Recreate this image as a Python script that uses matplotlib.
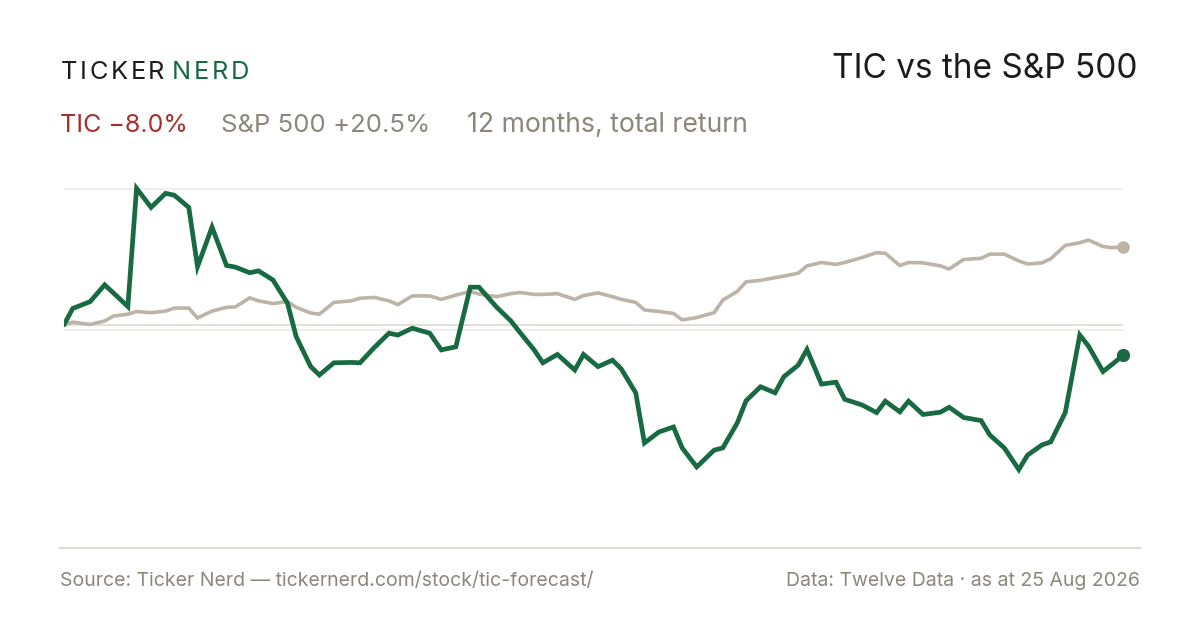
import pandas as pd
import matplotlib
matplotlib.use("Agg")
import matplotlib.pyplot as plt
from matplotlib.lines import Line2D

plt.rcParams['font.family'] = ['Inter', 'DejaVu Sans']

# NYSE sessions 25 Aug 2025 - 25 Aug 2026, every third one plus the last
holidays = ["2025-09-01", "2025-11-27", "2025-12-25", "2026-01-01", "2026-01-19",
            "2026-02-16", "2026-04-03", "2026-05-25", "2026-06-19", "2026-07-03"]
sessions = pd.date_range("2025-08-25", "2026-08-25",
                         freq=pd.offsets.CustomBusinessDay(holidays=holidays))
dates = list(sessions[::3]) + [sessions[-1]]

# cumulative total return, %
tic_return = [0.0, 4.3, 6.1, 10.5, 8.4, 4.8, 35.9, 30.9, 34.6, 34.1,
              30.9, 15.3, 25.7, 15.6, 15.2, 13.7, 14.2, 11.8, 5.7, -3.1,
              -11.0, -13.2, -10.0, -9.9, -10.0, -5.9, -2.2, -2.7, -0.9, -2.2,
              -6.6, -5.8, 9.9, 9.9, 4.7, 1.0, -1.9, -6.6, -10.0, -7.8,
              -11.9, -7.8, -11.0, -9.3, -11.6, -17.9, -31.1, -28.2, -26.9, -32.4,
              -37.4, -33.0, -32.4, -25.8, -20.0, -16.3, -17.9, -13.7, -10.6, -6.5,
              -15.6, -15.1, -19.6, -21.1, -23.1, -20.1, -22.9, -20.1, -23.6, -23.0,
              -21.7, -24.4, -25.2, -29.0, -32.4, -38.1, -34.3, -31.6, -30.8, -23.1,
              -2.7, -5.6, -12.3, -10.5, -8.0]
spx_return = [0.0, 0.7, 0.1, 1.0, 2.3, 2.8, 3.5, 3.2, 3.6, 4.4,
              4.4, 1.8, 3.6, 4.6, 4.7, 7.1, 6.3, 5.6, 6.1, 4.6,
              3.1, 2.8, 5.9, 6.3, 7.0, 7.2, 6.3, 5.3, 7.6, 7.6,
              6.7, 7.8, 8.8, 8.1, 7.4, 8.2, 8.5, 8.0, 8.0, 8.2,
              6.7, 7.7, 8.4, 7.4, 6.7, 5.9, 3.9, 3.5, 3.0, 1.3,
              1.9, 3.2, 6.5, 8.8, 11.3, 11.7, 12.4, 12.8, 13.6, 15.5,
              16.4, 15.9, 16.4, 17.7, 19.0, 18.8, 15.6, 16.4, 16.3, 15.5,
              14.7, 17.2, 17.5, 18.6, 18.6, 16.8, 16.0, 16.3, 17.4, 20.9,
              21.6, 22.3, 20.6, 20.3, 20.5]
grid_levels = [35.7, -1.3]

GREEN = "#176a42"
LINE_GRAY = "#bcb4a8"
RED = "#a8302b"
TEXT_GRAY = "#8c877a"
DARK = "#1c1c1c"

W, H = 1200, 630
fig = plt.figure(figsize=(12, 6.3), dpi=100)
fig.patch.set_facecolor("white")


def fx(px):
    return px / W


def fy(py):
    return 1 - py / H


ax = fig.add_axes([fx(64), fy(530), fx(1123.3) - fx(64), fy(170) - fy(530)])
ax.set_xlim(dates[0], dates[-1])
ax.set_ylim(-54.0, 40.74)
ax.axis("off")

for g in grid_levels:
    ax.axhline(g, color="#ece9e2", lw=1.1, zorder=1)
ax.axhline(0, color="#dcd7cc", lw=1.1, zorder=1)

ax.plot(dates, spx_return, color=LINE_GRAY, lw=2.6, zorder=3,
        solid_joinstyle="miter", solid_capstyle="round")
ax.plot(dates, tic_return, color=GREEN, lw=3.4, zorder=4,
        solid_joinstyle="miter", solid_capstyle="round")
ax.plot(dates[-1], spx_return[-1], "o", ms=8, color=LINE_GRAY, zorder=5, clip_on=False)
ax.plot(dates[-1], tic_return[-1], "o", ms=8.5, color=GREEN, zorder=5, clip_on=False)

# header
renderer = fig.canvas.get_renderer()


def spaced(x, y, s, color, size, spacing):
    for ch in s:
        t = fig.text(fx(x), fy(y), ch, color=color, fontsize=size, va="baseline")
        x += t.get_window_extent(renderer).width + spacing
    return x


x_end = spaced(61, 79.3, "TICKER", DARK, 18.3, 2.6)
spaced(x_end + 5, 79.3, "NERD", GREEN, 18.3, 2.6)

fig.text(fx(1138), fy(78.5), "TIC vs the S&P 500", ha="right", va="baseline",
         fontsize=24, color=DARK)

fig.text(fx(60), fy(132.3), "TIC \u22128.0%", fontsize=18, color=RED, va="baseline")
fig.text(fx(221), fy(132.3), "S&P 500 +20.5%", fontsize=18.5, color=TEXT_GRAY, va="baseline")
fig.text(fx(467), fy(132.3), "12 months, total return", fontsize=19.2, color=TEXT_GRAY,
         va="baseline")

# footer
fig.add_artist(Line2D([fx(60), fx(1140)], [fy(548), fy(548)], color="#dedad0", lw=1.5))
fig.text(fx(60), fy(586), "Source: Ticker Nerd \u2014 tickernerd.com/stock/tic-forecast/",
         fontsize=14, color=TEXT_GRAY, va="baseline")
fig.text(fx(1140), fy(586), "Data: Twelve Data \u00b7 as at 25 Aug 2026",
         fontsize=14, color=TEXT_GRAY, va="baseline", ha="right")

fig.savefig("out.png", dpi=100, facecolor="white")
